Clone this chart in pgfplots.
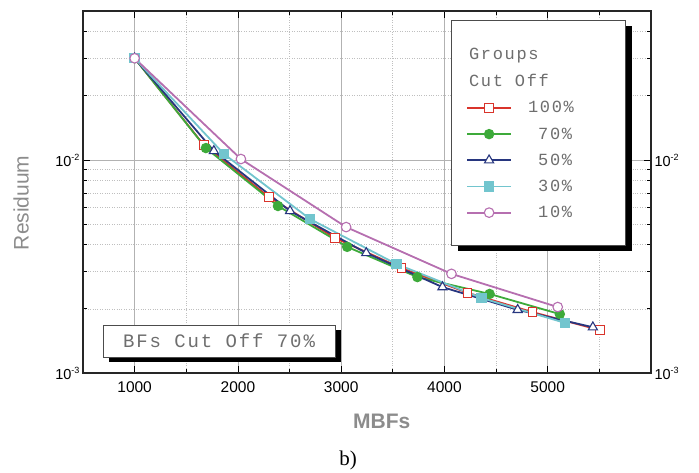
\documentclass[border=0pt]{standalone}
\usepackage{pgfplots}
\pgfplotsset{compat=1.18}
\usepackage{fontspec}
\setmainfont{Liberation Sans}
\newfontfamily\cour[LetterSpace=10]{Liberation Mono}
\newfontfamily\tms{Liberation Serif}

\definecolor{cred}{HTML}{D9342B}
\definecolor{cgreen}{HTML}{3DAA3A}
\definecolor{cblue}{HTML}{27367F}
\definecolor{ccyan}{HTML}{72C5CE}
\definecolor{cpink}{HTML}{B66FB0}
\definecolor{labgray}{HTML}{8C8C8C}
\definecolor{txtgray}{HTML}{6E6E6E}

\newcommand{\dec}[1]{10\raisebox{6pt}{\fontsize{9}{9}\selectfont #1}}

\begin{document}
\begin{tikzpicture}
\begin{axis}[
    scale only axis, width=568pt, height=362pt,
    xmin=500, xmax=6000, ymode=log, ymin=0.001, ymax=0.05,
    ytick={0.001,0.01}, yticklabels={\dec{-3},\dec{-2}},
    yticklabel style={font=\fontsize{14.5}{14.5}\selectfont},
    xtick={1000,2000,3000,4000,5000},
    xticklabels={1000,2000,3000,4000,5000},
    minor xtick={1500,2500,3500,4500,5500},
    minor ytick={0.002,0.003,0.004,0.005,0.006,0.007,0.008,0.009,0.02,0.03,0.04},
    grid=both,
    major grid style={gray!60, line width=0.8pt},
    minor grid style={gray!50, dotted, line width=0.7pt},
    tick align=inside,
    major tick length=7pt, minor tick length=4pt,
    tick style={black, line width=0.8pt},
    axis line style={line width=1.3pt, black!85},
    xticklabel style={font=\fontsize{15.5}{15.5}\selectfont, yshift=-5pt},
    xlabel={MBFs},
    xlabel style={at={(axis description cs:0.526,-0.1326)}, anchor=center,
                  font=\fontsize{21}{21}\selectfont\bfseries, text=labgray},
    ylabel={Residuum},
    ylabel style={at={(axis description cs:-0.109,0.47)}, anchor=center,
                  font=\fontsize{21}{21}\selectfont, text=labgray},
    legend cell align=left,
    legend style={draw=none, fill=none, at={(rel axis cs:0.6743,0.9033)},
                  anchor=north west, font=\cour\fontsize{17}{17}\selectfont,
                  text=txtgray, row sep=9.3pt, column sep=14pt, inner sep=0pt},
    legend image code/.code={\draw[mark repeat=2,mark phase=2,#1]
        plot coordinates {(0pt,0pt) (22pt,0pt) (44pt,0pt)};},
]
\addlegendimage{empty legend}
\addlegendentry{\hspace{-59pt}Groups}
\addlegendimage{empty legend}
\addlegendentry{\hspace{-59pt}Cut Off}

% 100%
\addplot[cred, line width=1.8pt, mark=square*, mark size=4.3pt,
         mark options={fill=white, line width=1.1pt}] coordinates {
    (1000,0.0300) (1670,0.01175) (2300,0.0067) (2942,0.0043)
    (3583,0.00311) (4223,0.00238) (4854,0.00193) (5505,0.00159)
};
\addlegendentry{100\%}

% 70%
\addplot[cgreen, line width=1.8pt, mark=*, mark size=4.3pt,
         mark options={fill=cgreen}] coordinates {
    (1000,0.0300) (1690,0.01137) (2388,0.00608) (3058,0.00391)
    (3738,0.00282) (4437,0.00235) (5117,0.00189)
};
\addlegendentry{\phantom{1}70\%}

% 50%
\addplot[cblue, line width=1.8pt, mark=triangle*, mark size=5.3pt,
         mark options={fill=white, line width=1.1pt}] coordinates {
    (1000,0.0300) (1767,0.01102) (2505,0.00576) (3243,0.00366)
    (3981,0.00253) (4709,0.00198) (5437,0.00164)
};
\addlegendentry{\phantom{1}50\%}

% 30%
\addplot[ccyan, line width=1.8pt, mark=square*, mark size=4.3pt,
         mark options={fill=ccyan}] coordinates {
    (1000,0.0300) (1864,0.01067) (2699,0.00528) (3534,0.00325)
    (4359,0.00225) (5165,0.00172)
};
\addlegendentry{\phantom{1}30\%}

% 10%
\addplot[cpink, line width=1.8pt, mark=*, mark size=4.8pt,
         mark options={fill=white, line width=1.1pt}] coordinates {
    (1000,0.0300) (2029,0.0101) (3048,0.00484) (4068,0.00292)
    (5097,0.00204)
};
\addlegendentry{\phantom{1}10\%}

% legend frame with shadow
\fill[black] (rel axis cs:0.6602,0.9586) rectangle (rel axis cs:0.9665,0.3370);
\draw[black!70, fill=white, line width=0.8pt]
    (rel axis cs:0.6479,0.9751) rectangle (rel axis cs:0.9542,0.3536);

% text box
\fill[black] (rel axis cs:0.0458,0.1188) rectangle (rel axis cs:0.4542,0.0304);
\draw[black!70, fill=white, line width=0.8pt]
    (rel axis cs:0.0352,0.1326) rectangle (rel axis cs:0.4437,0.0442);
\node[font=\cour\fontsize{19}{19}\selectfont, text=txtgray]
    at (rel axis cs:0.2394,0.0884) {BFs Cut Off 70\%};

\coordinate (O) at (rel axis cs:0,0);
\end{axis}

% right tick labels
\begin{axis}[
    scale only axis, width=568pt, height=362pt,
    xmin=500, xmax=6000, ymode=log, ymin=0.001, ymax=0.05,
    ytick={0.001,0.01}, yticklabels={\dec{-3},\dec{-2}},
    yticklabel style={font=\fontsize{14.5}{14.5}\selectfont},
    axis x line=none, axis y line*=right,
    axis line style={draw=none}, major tick length=0pt, minor tick length=0pt]
\addplot[draw=none] coordinates {(1000,0.01)};
\end{axis}

\node[font=\tms\fontsize{21}{21}\selectfont] at ([shift={(265pt,-87pt)}]O) {b)};
\path ([shift={(-83pt,-99pt)}]O) rectangle ([shift={(616pt,373pt)}]O);
\end{tikzpicture}
\end{document}
